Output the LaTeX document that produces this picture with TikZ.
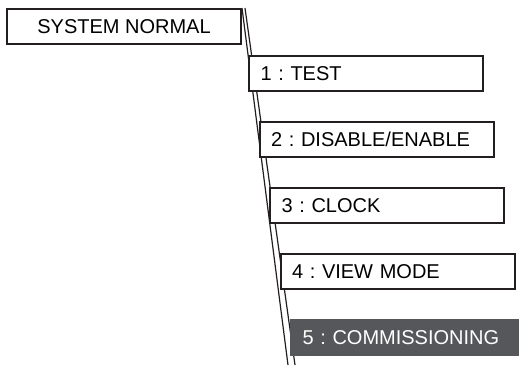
\documentclass[tikz,border=0pt]{standalone}
\usepackage{fontspec}
\setmainfont{Liberation Sans}
\frenchspacing
\definecolor{edge}{HTML}{231F20}
\definecolor{selgray}{HTML}{56575A}
\begin{document}
\begin{tikzpicture}[x=1pt, y=-1pt,
    box/.style={draw=edge, line width=2pt, fill=white, minimum height=35pt, inner sep=0pt, font=\fontsize{20}{22}\selectfont},
    item/.style={box, anchor=west, minimum width=234pt, text width=211pt, inner xsep=11.5pt, align=left},
    sel/.style={fill=selgray, draw=selgray, text=white}]
\useasboundingbox (0,0) rectangle (519,365);
\node[box, minimum width=234pt, anchor=north west] (sys) at (6,8) {SYSTEM NORMAL};
\coordinate (a) at (288,365);
\coordinate (b) at (295,365);
\draw[edge, line width=1.2pt] (sys.north east)--(a);
\draw[edge, line width=1.2pt] ([xshift=3pt]sys.north east)--(b);

\foreach \i/\t in {1/TEST, 2/{DISABLE/ENABLE}, 3/CLOCK, 4/VIEW MODE}
{
    \node[item] (m\i) at (248+10.5*\i-10.5, 73.5+66*\i-66) {\i{} : \t};
}
\node[item, sel] (m5) at (290,337.5) {5 : COMMISSIONING};
\end{tikzpicture}
\end{document}
